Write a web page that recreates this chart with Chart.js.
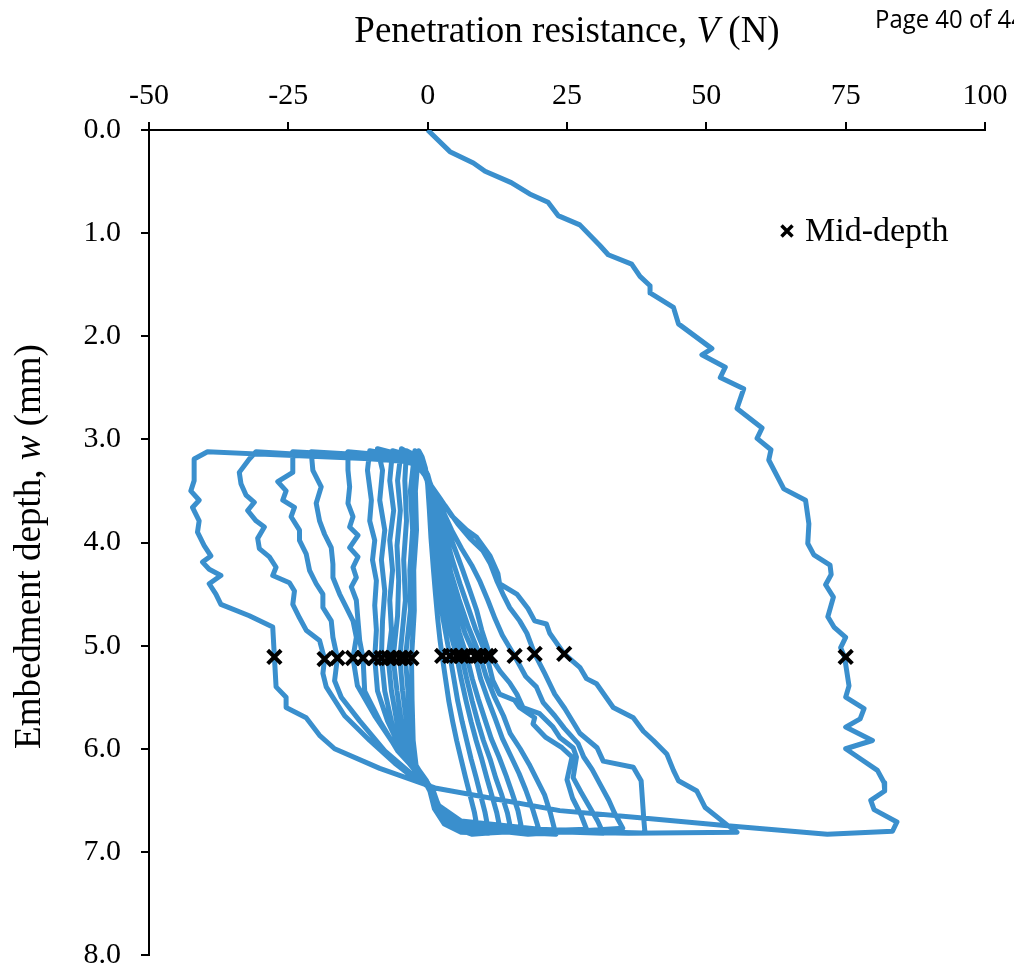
<!DOCTYPE html>
<html>
<head>
<meta charset="utf-8">
<script src="https://cdn.jsdelivr.net/npm/chart.js@4.4.1/dist/chart.umd.min.js"></script>
<style>
  html, body { margin: 0; padding: 0; background: #fff; }
  #wrap { width: 1014px; height: 969px; }
</style>
</head>
<body>
<div id="wrap"><canvas id="chart" width="1014" height="969"></canvas></div>
<script>
// penetration resistance V (N) vs embedment depth w (mm)
// each stroke is a list of [V, w] pairs; down = pushing in, up = pulling out

const xTicks = [-50, -25, 0, 25, 50, 75, 100];
const yTicks = [0, 1, 2, 3, 4, 5, 6, 7, 8];

const loading = [[0,0],[4.0,0.21],[8.2,0.32],[10.3,0.40],[15.0,0.51],[18.3,0.62],[21.6,0.70],[23.4,0.83],[27.3,0.92],[30.9,1.12],[32.4,1.21],[36.6,1.30],[38.1,1.42],[39.9,1.51],[39.9,1.58],[44.1,1.72],[45.0,1.88],[51.0,2.12],[49.2,2.18],[53.4,2.30],[52.5,2.40],[56.7,2.51],[55.5,2.70],[60.0,2.89],[59.1,2.99],[61.6,3.10],[61.2,3.20],[63.9,3.48],[67.8,3.59],[68.4,3.82],[68.2,4.01],[69.3,4.12],[72.2,4.22],[72.4,4.31],[71.4,4.41],[72.8,4.53],[71.8,4.72],[72.9,4.82],[75.0,4.92],[74.1,5.02],[74.8,5.11],[75.6,5.39],[75.0,5.50],[78.3,5.61],[77.6,5.71],[75.0,5.79],[79.8,5.92],[75.0,6.00],[77.7,6.10],[80.7,6.21],[81.9,6.33],[82.0,6.41],[79.5,6.50],[80.1,6.59],[84.2,6.71],[83.4,6.80]];

const up1 = [[71.7,6.83],[54.3,6.75],[38.1,6.67],[23.7,6.60],[1.3,6.38],[-8.6,6.19],[-16.7,6.00],[-19.4,5.87],[-21.8,5.70],[-25.4,5.60],[-25.4,5.50],[-27.2,5.40],[-27.5,5.11],[-27.8,4.82],[-32.0,4.71],[-37.1,4.60],[-38.0,4.50],[-39.2,4.40],[-37.1,4.32],[-39.2,4.26],[-40.4,4.19],[-38.9,4.13],[-40.1,4.03],[-41.3,3.90],[-41.0,3.79],[-42.2,3.66],[-41.0,3.59],[-42.5,3.50],[-41.9,3.40],[-41.9,3.19],[-39.5,3.12]];
const down1 = [[-23.0,3.16],[-5.0,3.20],[-1.1,3.26],[0,3.40],[2.2,3.57],[4.3,3.74],[7.0,3.88],[8.8,3.95],[11.2,4.13],[12.6,4.30],[12.9,4.40],[16.0,4.50],[18.0,4.64],[19.2,4.76],[21.3,4.79],[21.9,4.88],[24.5,5.08],[27.3,5.21],[28.5,5.32],[30.3,5.37],[33.3,5.60],[36.9,5.70],[38.7,5.83],[40.5,5.92],[42.9,6.05],[44.1,6.21],[45.0,6.31],[48.3,6.41],[49.8,6.57],[54.0,6.75],[55.5,6.81]];

const up2 = [[36,6.82],[17,6.80],[6.5,6.74],[2.0,6.56],[0.9,6.39],[-2.3,6.29],[-5.9,6.14],[-10.4,5.92],[-14.9,5.68],[-18.2,5.40],[-18.8,5.27],[-18.5,5.13],[-19.4,4.95],[-21.8,4.85],[-23.0,4.73],[-24.2,4.60],[-23.9,4.47],[-24.8,4.39],[-27.8,4.32],[-27.2,4.24],[-28.4,4.14],[-30.2,4.06],[-30.5,3.96],[-29.3,3.85],[-30.8,3.79],[-32.3,3.69],[-31.1,3.61],[-32.6,3.54],[-33.5,3.43],[-33.8,3.32],[-32.0,3.19],[-30.8,3.12]];
const down2 = [[-15,3.17],[-2.3,3.22],[-0.5,3.35],[0.7,3.50],[3.1,3.64],[5.4,3.82],[7.6,3.96],[9.9,4.08],[11.2,4.20],[12.4,4.37],[13.5,4.50],[14.7,4.63],[16.5,4.76],[17.8,4.88],[19.2,5.08],[21.0,5.27],[22.8,5.47],[24.6,5.61],[27.3,5.85],[30.4,5.99],[31.5,6.12],[36.9,6.18],[38.3,6.31],[38.8,6.70],[39.0,6.82]];

const up3 = [[20,6.78],[6.0,6.70],[2.0,6.55],[0.7,6.39],[-3.2,6.23],[-7.7,6.02],[-12.2,5.73],[-15.5,5.50],[-16.7,5.34],[-16.2,5.12],[-17.0,4.92],[-17.3,4.76],[-18.8,4.63],[-18.8,4.50],[-20.0,4.40],[-21.2,4.27],[-21.8,4.11],[-23.0,3.98],[-23.0,3.88],[-24.5,3.75],[-23.9,3.66],[-26.0,3.59],[-25.4,3.50],[-26.9,3.41],[-24.2,3.32],[-24.2,3.12]];
const down3 = [[-10,3.16],[-2,3.22],[-0.3,3.32],[1.0,3.50],[2.7,3.69],[4.3,3.88],[6.1,4.06],[7.9,4.22],[9.4,4.38],[10.8,4.56],[12.1,4.74],[13.4,4.90],[15.6,5.10],[17.6,5.30],[19.5,5.40],[20.7,5.55],[22.8,5.68],[24.5,5.80],[27.0,5.95],[28.0,6.08],[29.5,6.20],[31.0,6.35],[32.5,6.50],[33.5,6.62],[35.0,6.77]];

const up4 = [[18,6.83],[6.0,6.76],[2.0,6.58],[0.7,6.39],[-2.3,6.21],[-5.9,5.97],[-9.5,5.68],[-12.6,5.39],[-13.4,5.12],[-12.8,4.92],[-13.4,4.76],[-14.6,4.63],[-15.8,4.50],[-17.0,4.34],[-17.0,4.21],[-17.3,4.05],[-18.5,3.92],[-19.4,3.79],[-20.0,3.62],[-19.1,3.46],[-20.6,3.30],[-20.9,3.12]];
const down4 = [[-8,3.16],[-1.5,3.23],[-0.2,3.32],[0.9,3.50],[2.2,3.69],[3.6,3.88],[5.0,4.08],[6.3,4.27],[7.6,4.47],[8.8,4.66],[9.7,4.85],[11.2,5.10],[13.0,5.25],[14.7,5.36],[16.0,5.47],[17.1,5.60],[20.1,5.66],[22.5,5.79],[23.7,5.89],[26.1,5.99],[26.7,6.08],[26.1,6.28],[27.5,6.42],[29.0,6.56],[30.5,6.70],[31.5,6.82]];

const up5 = [[15,6.79],[5.5,6.71],[2.0,6.57],[0.9,6.39],[-1.8,6.23],[-5.4,6.02],[-8.6,5.73],[-11.3,5.44],[-11.6,5.12],[-12.2,4.95],[-12.5,4.76],[-12.8,4.56],[-13.7,4.43],[-12.8,4.34],[-13.4,4.24],[-12.5,4.14],[-14.0,4.05],[-12.5,3.93],[-14.0,3.85],[-13.4,3.75],[-14.3,3.62],[-14.0,3.46],[-14.3,3.30],[-14.3,3.12]];
const down5 = [[-6,3.16],[-1.3,3.24],[0,3.34],[0.8,3.50],[2.0,3.72],[3.3,3.95],[4.5,4.18],[5.8,4.40],[7.2,4.62],[8.6,4.84],[10.6,5.10],[11.7,5.34],[12.9,5.47],[15.6,5.53],[16.5,5.60],[19.2,5.70],[18.9,5.76],[21.2,5.89],[24.1,5.99],[25.9,6.08],[25.0,6.30],[26.0,6.48],[27.5,6.64],[28.5,6.78]];

const up6 = [[13,6.81],[5,6.75],[2,6.58],[0.8,6.40],[-1.4,6.26],[-4.7,6.02],[-7.2,5.73],[-9.0,5.44],[-9.5,5.12],[-9.2,4.85],[-9.5,4.61],[-9.2,4.37],[-9.9,4.17],[-9.5,3.98],[-10.4,3.79],[-10.1,3.59],[-10.8,3.30],[-10.4,3.11]];
const down6 = [[-5,3.16],[-1.2,3.24],[0,3.35],[0.7,3.52],[1.8,3.78],[3.0,4.05],[4.2,4.30],[5.6,4.55],[7.3,4.82],[9.4,5.10],[10.5,5.30],[12.0,5.50],[13.6,5.68],[14.8,5.85],[16.6,6.00],[18.2,6.15],[19.6,6.30],[21.0,6.45],[22.0,6.62],[23.0,6.83]];

const up7 = [[11,6.80],[4.5,6.72],[1.8,6.58],[0.8,6.40],[-1.1,6.27],[-4.1,6.04],[-6.3,5.78],[-7.7,5.44],[-8.3,5.12],[-8.1,4.76],[-7.7,4.47],[-8.3,4.17],[-7.7,3.88],[-8.6,3.59],[-8.1,3.30],[-9.0,3.09]];
const down7 = [[-4,3.16],[-1,3.24],[0,3.36],[0.6,3.55],[1.5,3.80],[2.6,4.08],[3.8,4.35],[5.2,4.62],[6.7,4.88],[8.5,5.10],[9.5,5.32],[10.8,5.52],[12.2,5.72],[13.4,5.90],[15.0,6.08],[16.4,6.24],[17.6,6.40],[18.8,6.58],[20.0,6.79]];

const up8 = [[10,6.82],[4,6.74],[1.6,6.58],[0.7,6.40],[-0.7,6.29],[-3.6,6.07],[-5.4,5.78],[-6.5,5.44],[-7.1,5.12],[-6.5,4.85],[-6.8,4.56],[-6.3,4.27],[-6.8,3.98],[-6.1,3.69],[-6.8,3.40],[-6.3,3.11]];
const down8 = [[-3,3.16],[-0.8,3.25],[0,3.38],[0.5,3.58],[1.3,3.85],[2.3,4.12],[3.4,4.40],[4.6,4.66],[5.7,4.88],[7.0,5.10],[8.0,5.32],[9.1,5.52],[10.3,5.72],[11.4,5.90],[12.8,6.08],[14.0,6.25],[15.1,6.42],[16.2,6.60],[17.0,6.81]];

const up9 = [[9,6.79],[3.8,6.71],[1.5,6.58],[0.7,6.41],[-0.5,6.30],[-3.1,6.07],[-4.6,5.78],[-5.5,5.44],[-6.2,5.12],[-5.4,4.71],[-5.2,4.37],[-5.5,4.03],[-4.9,3.69],[-5.4,3.40],[-4.7,3.09]];
const down9 = [[-2.5,3.16],[-0.7,3.25],[0,3.38],[0.5,3.60],[1.2,3.88],[2.0,4.15],[2.9,4.42],[3.9,4.68],[4.9,4.90],[6.1,5.10],[7.0,5.32],[8.0,5.54],[9.0,5.74],[10.0,5.92],[11.2,6.10],[12.2,6.28],[13.3,6.45],[14.3,6.62],[15.0,6.80]];

const up10 = [[8,6.83],[3.5,6.74],[1.4,6.58],[0.6,6.41],[-0.2,6.31],[-2.7,6.12],[-3.6,5.83],[-4.5,5.44],[-5.0,5.12],[-4.0,4.56],[-4.3,4.17],[-3.8,3.79],[-4.1,3.40],[-3.8,3.11]];
const down10 = [[-2,3.16],[-0.6,3.26],[0,3.40],[0.4,3.62],[1.0,3.90],[1.7,4.18],[2.5,4.45],[3.4,4.70],[4.3,4.92],[5.2,5.10],[6.0,5.32],[6.9,5.54],[7.8,5.74],[8.7,5.92],[9.7,6.10],[10.6,6.28],[11.5,6.45],[12.4,6.62],[13.0,6.78]];

const up11 = [[7,6.79],[3.2,6.71],[1.3,6.58],[0.5,6.41],[0,6.33],[-2.3,6.17],[-3.2,5.92],[-3.4,5.53],[-4.0,5.12],[-3.1,4.66],[-3.2,4.27],[-2.7,3.88],[-3.1,3.50],[-2.3,3.11]];
const down11 = [[-1.5,3.17],[-0.5,3.27],[0,3.42],[0.4,3.65],[0.9,3.93],[1.4,4.20],[2.0,4.47],[2.7,4.72],[3.4,4.93],[4.0,5.10],[4.7,5.32],[5.4,5.54],[6.2,5.74],[7.0,5.92],[7.8,6.10],[8.7,6.28],[9.5,6.45],[10.3,6.62],[11.0,6.82]];

const up12 = [[6,6.81],[3.0,6.73],[1.2,6.58],[0.4,6.41],[-0.3,6.34],[-2.0,6.20],[-2.6,5.92],[-2.8,5.53],[-2.9,5.12],[-2.4,4.66],[-2.5,4.27],[-2.0,3.88],[-2.2,3.50],[-1.6,3.11]];
const down12 = [[-1.0,3.17],[-0.4,3.28],[0,3.44],[0.3,3.68],[0.6,3.96],[1.0,4.24],[1.4,4.50],[1.8,4.74],[2.2,4.94],[2.6,5.10],[3.2,5.32],[3.8,5.54],[4.5,5.74],[5.2,5.92],[6.0,6.10],[6.8,6.28],[7.6,6.45],[8.4,6.62],[9.0,6.80]];

// mid-depth crosses
const midV = [75.0, -27.5, 24.5, -18.5, 19.2, -16.2, 15.6, -13.4, 11.2, -11.6, 10.6, -9.5, 9.4, -8.3, 8.5, -7.1, 7.0, -6.2, 6.1, -5.0, 5.2, -4.0, 4.0, -2.9, 2.6];
const midW = [5.11, 5.11, 5.08, 5.13, 5.08, 5.12, 5.10, 5.12, 5.10, 5.12, 5.10, 5.12, 5.10, 5.12, 5.10, 5.12, 5.10, 5.12, 5.10, 5.12, 5.10, 5.12, 5.10, 5.12, 5.10];

const strokes = [loading, up1, down1, up2, down2, up3, down3, up4, down4, up5, down5, up6, down6,
  up7, down7, up8, down8, up9, down9, up10, down10, up11, down11, up12, down12];

const curve = strokes.flat().map(([x, y]) => ({ x, y }));
const marks = midV.map((v, i) => ({ x: v, y: midW[i] }));

const BLUE = '#3a8fcd';
const SERIF = '"Liberation Serif", "Times New Roman", serif';

// draw text made of plain + italic bits, centred on x
function mixedText(ctx, parts, x, y, size) {
  const fonts = parts.map((p) => `${p.i ? 'italic ' : ''}${size}px ${SERIF}`);
  let total = 0;
  const widths = parts.map((p, k) => { ctx.font = fonts[k]; const w = ctx.measureText(p.t).width; total += w; return w; });
  let cx = x - total / 2;
  parts.forEach((p, k) => { ctx.font = fonts[k]; ctx.fillText(p.t, cx, y); cx += widths[k]; });
}

const extras = {
  id: 'extras',
  afterDraw(chart) {
    const ctx = chart.ctx;
    const a = chart.chartArea;
    ctx.save();
    ctx.fillStyle = '#000';
    ctx.textBaseline = 'alphabetic';
    ctx.textAlign = 'left';

    // x title
    mixedText(ctx, [{ t: 'Penetration resistance, ' }, { t: 'V', i: true }, { t: ' (N)' }], (a.left + a.right) / 2, 42, 37);

    // y title
    ctx.save();
    ctx.translate(40, (a.top + a.bottom) / 2 + 4);
    ctx.rotate(-Math.PI / 2);
    mixedText(ctx, [{ t: 'Embedment depth, ' }, { t: 'w', i: true }, { t: ' (mm)' }], 0, 0, 37);
    ctx.restore();

    // legend
    const lx = 787, ly = 231, d = 5.5;
    ctx.strokeStyle = '#000';
    ctx.lineWidth = 3.5;
    ctx.beginPath();
    ctx.moveTo(lx - d, ly - d); ctx.lineTo(lx + d, ly + d);
    ctx.moveTo(lx + d, ly - d); ctx.lineTo(lx - d, ly + d);
    ctx.stroke();
    ctx.font = `34px ${SERIF}`;
    ctx.textBaseline = 'middle';
    ctx.fillText('Mid-depth', 805, ly + 1);

    // page stamp, cut by the right edge
    ctx.font = '26px "Open Sans", sans-serif';
    ctx.textBaseline = 'alphabetic';
    ctx.translate(875, 28);
    ctx.scale(0.92, 1);
    ctx.fillText('Page 40 of 44', 0, 0);
    ctx.restore();
  },
};

const tickFont = { family: SERIF, size: 30 };

new Chart(document.getElementById('chart'), {
  type: 'scatter',
  data: {
    datasets: [
      {
        label: 'Mid-depth',
        data: marks,
        pointStyle: 'crossRot',
        pointRadius: 9.5,
        pointBorderWidth: 4,
        pointBorderColor: '#000',
        borderColor: '#000',
        backgroundColor: '#000',
        showLine: false,
        order: 0,
      },
      {
        label: 'V',
        data: curve,
        showLine: true,
        borderColor: BLUE,
        borderWidth: 5,
        borderJoinStyle: 'round',
        pointRadius: 0,
        tension: 0,
        order: 1,
      },
    ],
  },
  options: {
    responsive: false,
    animation: false,
    layout: { padding: { left: 0, right: 29, top: 0, bottom: 14 } },
    plugins: { legend: { display: false }, tooltip: { enabled: false } },
    scales: {
      x: {
        type: 'linear',
        position: 'top',
        min: xTicks[0],
        max: xTicks[xTicks.length - 1],
        afterBuildTicks: (s) => { s.ticks = xTicks.map((v) => ({ value: v })); },
        afterFit: (s) => { s.height = 130; s.paddingLeft = 0; s.paddingRight = 0; },
        ticks: { color: '#000', font: tickFont, padding: 8, maxRotation: 0 },
        grid: { drawOnChartArea: false, drawTicks: true, tickLength: 8, color: '#000', lineWidth: 2 },
        border: { display: true, color: '#000', width: 2 },
      },
      y: {
        type: 'linear',
        reverse: true,
        min: yTicks[0],
        max: yTicks[yTicks.length - 1],
        afterBuildTicks: (s) => { s.ticks = yTicks.map((v) => ({ value: v })); },
        afterFit: (s) => { s.width = 149; s.paddingTop = 0; s.paddingBottom = 0; },
        ticks: { color: '#000', font: tickFont, padding: 20, callback: (v) => Number(v).toFixed(1) },
        grid: { drawOnChartArea: false, drawTicks: true, tickLength: 8, color: '#000', lineWidth: 2 },
        border: { display: true, color: '#000', width: 2 },
      },
    },
  },
  plugins: [extras],
});
</script>
</body>
</html>
